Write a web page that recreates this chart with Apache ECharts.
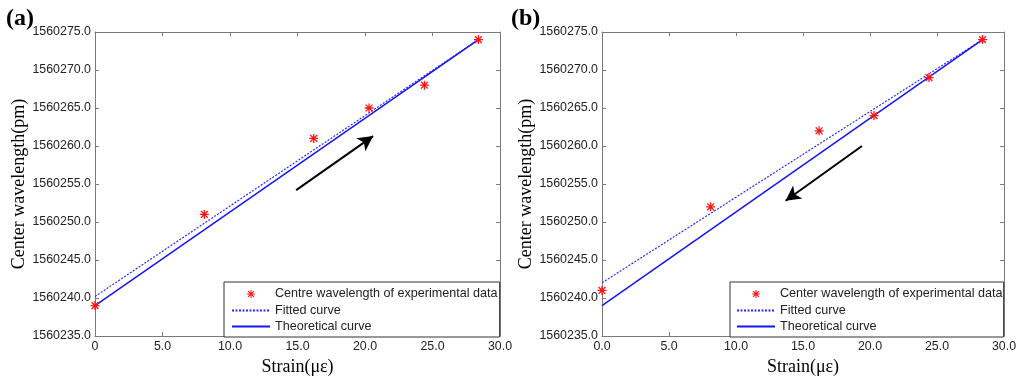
<!DOCTYPE html>
<html>
<head>
<meta charset="utf-8">
<script src="https://cdn.jsdelivr.net/npm/echarts@6/dist/echarts.min.js"></script>
<style>
html,body{margin:0;padding:0;background:#fff;}
#chart{width:1024px;height:386px;}
</style>
</head>
<body>
<div id="chart"></div>
<script>
// ---- data ----
const strainA = [0, 8.1, 16.2, 20.3, 24.4, 28.4];
const wavelengthA = [1560239, 1560251, 1560261, 1560265, 1560268, 1560274];
const strainB = [0, 8.1, 16.2, 20.3, 24.4, 28.4];
const wavelengthB = [1560241, 1560252, 1560262, 1560264, 1560269, 1560274];
const fittedX = [0, 28.4];
const fittedA = [1560240.2, 1560274];
const fittedB = [1560242, 1560274];
const theoryX = [0, 28.4];
const theoryY = [1560239, 1560274];
const arrowA = [[14.9, 1560254.2], [20.6, 1560261.3]];
const arrowB = [[19.4, 1560260.0], [13.7, 1560252.8]];
const xTicksA = ['0', '5.0', '10.0', '15.0', '20.0', '25.0', '30.0'];
const xTicksB = ['0.0', '5.0', '10.0', '15.0', '20.0', '25.0', '30.0'];
const yTicks = ['1560235.0', '1560240.0', '1560245.0', '1560250.0', '1560255.0', '1560260.0', '1560265.0', '1560270.0', '1560275.0'];
const nameExpA = 'Centre wavelength of experimental data';
const nameExpB = 'Center wavelength of experimental data';
const nameFit = 'Fitted curve';
const nameTheory = 'Theoretical curve';

const xMin = 0, xMax = 30, xStep = 5;
const yMin = 1560235, yMax = 1560275, yStep = 5;

const pairs = (xs, ys) => xs.map((x, i) => [x, ys[i]]);

const starBody = 'M0 8.6L20 8.6L20 11.4L0 11.4Z M8.6 0L11.4 0L11.4 20L8.6 20Z M3.4 1.4L18.6 16.6L16.6 18.6L1.4 3.4Z M16.6 1.4L18.6 3.4L3.4 18.6L1.4 16.6Z';
const asterisk = 'path://' + starBody;
// same glyph with invisible padding points so the legend draws it smaller
const asteriskLegend = 'path://' + starBody + ' M-8 -8L-8 -8L-8 -8Z M28 28L28 28L28 28Z';

const axisColor = '#7a7a7a';
const labelFont = {color: '#222', fontFamily: 'Liberation Sans, Arial', fontSize: 12.4};
const titleFont = {color: '#000', fontFamily: 'Liberation Serif, Times New Roman', fontSize: 18};

function xAxisMain(gi, ticks) {
  return {
    type: 'value', gridIndex: gi, min: xMin, max: xMax, interval: xStep, position: 'bottom',
    name: 'Strain(\u03bc\u03b5)', nameLocation: 'middle', nameGap: 22, nameTextStyle: titleFont,
    axisLine: {show: true, onZero: false, lineStyle: {color: axisColor, width: 1}},
    axisTick: {show: true, inside: true, length: 4, lineStyle: {color: axisColor}},
    axisLabel: Object.assign({margin: 5, formatter: v => ticks[Math.round((v - xMin) / xStep)]}, labelFont),
    splitLine: {show: false}
  };
}
function xAxisTop(gi) {
  return {
    type: 'value', gridIndex: gi, min: xMin, max: xMax, interval: xStep, position: 'top',
    axisLine: {show: true, onZero: false, lineStyle: {color: axisColor, width: 1}},
    axisTick: {show: true, inside: true, length: 4, lineStyle: {color: axisColor}},
    axisLabel: {show: false}, splitLine: {show: false}
  };
}
function yAxisMain(gi) {
  return {
    type: 'value', gridIndex: gi, min: yMin, max: yMax, interval: yStep, position: 'left',
    name: 'Center wavelength(pm)', nameLocation: 'middle', nameGap: 64, nameTextStyle: titleFont,
    axisLine: {show: true, onZero: false, lineStyle: {color: axisColor, width: 1}},
    axisTick: {show: true, inside: true, length: 4, lineStyle: {color: axisColor}},
    axisLabel: Object.assign({margin: 4, formatter: v => yTicks[Math.round((v - yMin) / yStep)]}, labelFont),
    splitLine: {show: false}
  };
}
function yAxisRight(gi) {
  return {
    type: 'value', gridIndex: gi, min: yMin, max: yMax, interval: yStep, position: 'right',
    axisLine: {show: true, onZero: false, lineStyle: {color: axisColor, width: 1}},
    axisTick: {show: true, inside: true, length: 4, lineStyle: {color: axisColor}},
    axisLabel: {show: false}, splitLine: {show: false}
  };
}

function panelSeries(gi, expName, xs, ys, fitY, arrow) {
  return [
    {
      name: expName, type: 'scatter', xAxisIndex: gi * 2, yAxisIndex: gi * 2,
      data: pairs(xs, ys), symbol: asterisk, symbolSize: 9, symbolKeepAspect: true,
      itemStyle: {color: '#ff1414', opacity: 1}, z: 5
    },
    {
      name: nameFit, type: 'line', xAxisIndex: gi * 2, yAxisIndex: gi * 2,
      data: pairs(fittedX, fitY), symbol: 'none', showSymbol: false,
      lineStyle: {color: '#2a2aff', width: 1.2, type: [2, 1.5]}, itemStyle: {color: '#2a2aff'}
    },
    {
      name: nameTheory, type: 'line', xAxisIndex: gi * 2, yAxisIndex: gi * 2,
      data: pairs(theoryX, theoryY), symbol: 'none', showSymbol: false,
      lineStyle: {color: '#1414f5', width: 1.5}, itemStyle: {color: '#1414f5'},
      markLine: {
        silent: true, symbol: ['none', 'arrow'], symbolSize: [12, 15], animation: false,
        label: {show: false},
        lineStyle: {color: '#000', width: 2, type: 'solid'},
        data: [[{coord: arrow[0]}, {coord: arrow[1]}]]
      }
    }
  ];
}

function legendFor(gi, expName, left, padL, padR) {
  return {
    show: true, orient: 'vertical', left: left, top: 282,
    padding: [5, padR, 4, padL], itemGap: 3, itemWidth: 38, itemHeight: 14,
    borderColor: '#333', borderWidth: 1, backgroundColor: '#fff',
    textStyle: {color: '#222', fontFamily: 'Liberation Sans, Arial', fontSize: 12.6},
    selectedMode: false,
    data: [
      {name: expName, icon: asteriskLegend},
      {name: nameFit, itemStyle: {opacity: 0}},
      {name: nameTheory, itemStyle: {opacity: 0}}
    ]
  };
}

const chart = echarts.init(document.getElementById('chart'), null, {renderer: 'canvas'});
chart.setOption({
  animation: false,
  backgroundColor: '#fff',
  grid: [
    {left: 95, right: 524, top: 32, bottom: 50, containLabel: false},
    {left: 602, right: 20, top: 32, bottom: 50, containLabel: false}
  ],
  xAxis: [xAxisMain(0, xTicksA), xAxisTop(0), xAxisMain(1, xTicksB), xAxisTop(1)],
  yAxis: [yAxisMain(0), yAxisRight(0), yAxisMain(1), yAxisRight(1)],
  legend: [legendFor(0, nameExpA, 224, 7, 2), legendFor(1, nameExpB, 730, 6, 1)],
  graphic: [
    {type: 'text', left: 6, top: 7, style: {text: '(a)', fontFamily: 'Liberation Serif, Times New Roman', fontWeight: 'bold', fontSize: 24, fill: '#000'}},
    {type: 'text', left: 511, top: 7, style: {text: '(b)', fontFamily: 'Liberation Serif, Times New Roman', fontWeight: 'bold', fontSize: 24, fill: '#000'}}
  ],
  series: [].concat(
    panelSeries(0, nameExpA, strainA, wavelengthA, fittedA, arrowA),
    panelSeries(1, nameExpB, strainB, wavelengthB, fittedB, arrowB)
  )
});
</script>
</body>
</html>
